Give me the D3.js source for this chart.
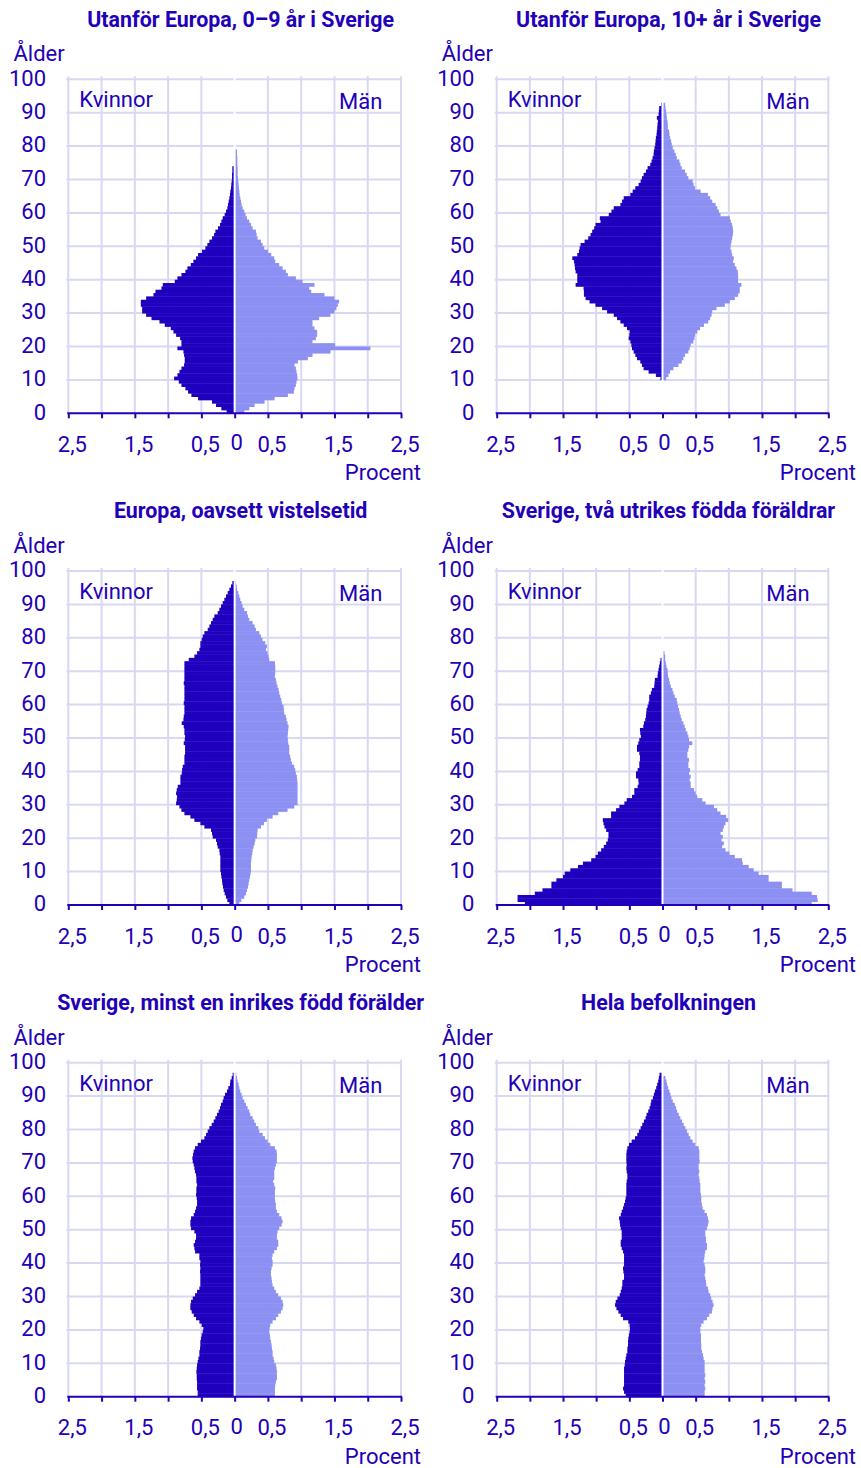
<!DOCTYPE html>
<html><head><meta charset="utf-8">
<script src="https://cdn.jsdelivr.net/npm/d3@7"></script>
<style>
html,body{margin:0;padding:0;background:#fff;}
svg text{font-family:Roboto,"Noto Sans",sans-serif;fill:#2200B8;}
</style></head>
<body>
<svg id="c" width="861" height="1468"></svg>
<script>
// ---- data (percent of population by single-year age, starting at age 0) ----
const titles = [
  "Utanför Europa, 0–9 år i Sverige",
  "Utanför Europa, 10+ år i Sverige",
  "Europa, oavsett vistelsetid",
  "Sverige, två utrikes födda föräldrar",
  "Sverige, minst en inrikes född förälder",
  "Hela befolkningen"
];
const xTickValues = [-2.5,-2,-1.5,-1,-0.5,0,0.5,1,1.5,2,2.5];
const xTickLabels = ["2,5","","1,5","","0,5","0","0,5","","1,5","","2,5"];
const yTickValues = [0,10,20,30,40,50,60,70,80,90,100];
const labelWomen = "Kvinnor", labelMen = "Män", labelAge = "Ålder", labelPct = "Procent";

// Panel 1: Utanför Europa, 0–9 år i Sverige
const p1Women = [0.12,0.2,0.28,0.34,0.55,0.65,0.7,0.74,0.8,0.84,
 0.91,0.86,0.83,0.8,0.76,0.75,0.75,0.76,0.77,0.86,
 0.8,0.8,0.82,0.88,0.92,0.96,1.05,1.13,1.25,1.33,
 1.39,1.39,1.41,1.41,1.33,1.22,1.19,1.1,1.08,0.9,
 0.86,0.8,0.74,0.71,0.66,0.62,0.58,0.55,0.49,0.44,
 0.41,0.38,0.34,0.31,0.29,0.25,0.22,0.2,0.18,0.15,
 0.13,0.11,0.1,0.09,0.08,0.07,0.065,0.055,0.05,0.045,
 0.04,0.04,0.035,0.035];
const p1Men = [0.145,0.22,0.3,0.45,0.6,0.8,0.89,0.9,0.92,0.93,
 0.945,0.94,0.93,0.92,0.9,0.95,1.1,1.17,1.44,2.04,
 1.51,1.17,1.22,1.24,1.24,1.2,1.17,1.17,1.27,1.44,
 1.5,1.53,1.55,1.57,1.5,1.35,1.15,1.12,1.2,1.02,
 0.92,0.8,0.77,0.72,0.67,0.61,0.595,0.55,0.5,0.445,
 0.42,0.395,0.345,0.33,0.32,0.27,0.245,0.22,0.185,0.165,
 0.145,0.12,0.105,0.095,0.085,0.075,0.07,0.065,0.06,0.055,
 0.05,0.045,0.045,0.045,0.04,0.04,0.04,0.035,0.035];

// Panel 2: Utanför Europa, 10+ år i Sverige
const p2Women = [0,0,0,0,0,0,0,0,0,0,
 0.03,0.1,0.21,0.285,0.31,0.335,0.385,0.41,0.435,0.46,
 0.47,0.485,0.51,0.5,0.495,0.535,0.585,0.635,0.685,0.735,
 0.835,0.91,1.01,1.1,1.16,1.185,1.185,1.19,1.31,1.285,
 1.285,1.285,1.31,1.32,1.325,1.335,1.36,1.285,1.26,1.25,
 1.235,1.175,1.12,1.085,1.06,1.03,1.01,0.935,0.945,0.81,
 0.77,0.735,0.635,0.61,0.585,0.485,0.45,0.41,0.36,0.33,
 0.31,0.285,0.25,0.225,0.185,0.165,0.15,0.135,0.13,0.12,
 0.11,0.105,0.1,0.09,0.085,0.08,0.075,0.07,0.085,0.06,
 0.055,0.05,0.02];
const p2Men = [0,0,0,0,0,0,0,0,0,0,
 0.055,0.09,0.115,0.165,0.24,0.29,0.315,0.34,0.39,0.41,
 0.425,0.465,0.48,0.49,0.525,0.565,0.625,0.69,0.72,0.74,
 0.75,0.815,0.94,1.015,1.09,1.14,1.165,1.165,1.19,1.14,
 1.14,1.14,1.135,1.115,1.09,1.065,1.075,1.05,1.04,1.025,
 1.03,1.04,1.05,1.06,1.065,1.06,1.05,1.03,1.015,0.875,
 0.85,0.825,0.8,0.75,0.72,0.685,0.575,0.49,0.47,0.455,
 0.39,0.365,0.34,0.29,0.27,0.255,0.215,0.2,0.18,0.155,
 0.14,0.13,0.115,0.105,0.1,0.08,0.08,0.075,0.065,0.06,
 0.055,0.045,0.04];

// Panel 3: Europa, oavsett vistelsetid
const p3Women = [0.08,0.11,0.13,0.15,0.165,0.175,0.185,0.19,0.2,0.205,
 0.215,0.215,0.215,0.215,0.215,0.225,0.23,0.255,0.265,0.28,
 0.33,0.34,0.355,0.455,0.515,0.605,0.665,0.755,0.8,0.83,
 0.88,0.87,0.865,0.88,0.87,0.855,0.815,0.815,0.815,0.795,
 0.79,0.78,0.755,0.755,0.755,0.745,0.745,0.745,0.765,0.75,
 0.745,0.755,0.755,0.765,0.795,0.77,0.765,0.755,0.755,0.755,
 0.765,0.755,0.755,0.755,0.755,0.755,0.765,0.755,0.755,0.755,
 0.755,0.755,0.755,0.69,0.605,0.565,0.53,0.515,0.515,0.495,
 0.48,0.455,0.405,0.38,0.355,0.33,0.305,0.255,0.23,0.205,
 0.18,0.155,0.13,0.105,0.08,0.055,0.035];
const p3Men = [0.07,0.1,0.145,0.17,0.185,0.2,0.21,0.22,0.23,0.24,
 0.245,0.245,0.245,0.25,0.255,0.265,0.27,0.285,0.3,0.31,
 0.335,0.34,0.345,0.395,0.44,0.485,0.57,0.655,0.795,0.895,
 0.945,0.945,0.945,0.945,0.945,0.945,0.945,0.94,0.935,0.92,
 0.91,0.895,0.86,0.845,0.835,0.82,0.82,0.82,0.805,0.8,
 0.795,0.8,0.805,0.81,0.795,0.78,0.77,0.745,0.74,0.735,
 0.71,0.7,0.685,0.67,0.66,0.645,0.63,0.62,0.605,0.61,
 0.61,0.61,0.605,0.52,0.51,0.495,0.47,0.485,0.46,0.42,
 0.395,0.37,0.32,0.3,0.27,0.22,0.2,0.185,0.145,0.12,
 0.105,0.085,0.07,0.055,0.035,0.03,0.02];

// Panel 4: Sverige, två utrikes födda föräldrar
const p4Women = [2.075,2.185,2.185,1.925,1.81,1.675,1.675,1.6,1.5,1.475,
 1.39,1.275,1.2,1.075,1.01,0.975,0.925,0.885,0.85,0.825,
 0.815,0.815,0.85,0.875,0.89,0.9,0.775,0.775,0.7,0.65,
 0.575,0.54,0.46,0.425,0.425,0.375,0.36,0.365,0.4,0.4,
 0.375,0.35,0.35,0.34,0.34,0.35,0.385,0.385,0.365,0.35,
 0.325,0.335,0.34,0.29,0.28,0.26,0.25,0.245,0.24,0.225,
 0.21,0.2,0.2,0.175,0.16,0.125,0.12,0.115,0.075,0.07,
 0.06,0.05,0.04,0.03];
const p4Men = [2.25,2.34,2.33,2.25,1.96,1.8,1.8,1.6,1.6,1.45,
 1.375,1.3,1.21,1.2,1.09,1.01,0.95,0.9,0.925,0.89,
 0.91,0.875,0.91,0.925,0.95,0.99,0.96,0.875,0.825,0.775,
 0.65,0.6,0.525,0.5,0.475,0.425,0.425,0.41,0.425,0.4,
 0.415,0.39,0.39,0.4,0.375,0.375,0.39,0.4,0.45,0.4,
 0.39,0.375,0.35,0.335,0.315,0.29,0.275,0.26,0.25,0.235,
 0.225,0.215,0.185,0.165,0.15,0.125,0.11,0.1,0.085,0.08,
 0.075,0.06,0.05,0.04,0.04,0.03];

// Panel 5: Sverige, minst en inrikes född förälder
const p5Women = [0.555,0.555,0.565,0.565,0.565,0.57,0.57,0.575,0.57,0.565,
 0.555,0.545,0.53,0.53,0.52,0.515,0.515,0.505,0.495,0.48,
 0.47,0.495,0.53,0.58,0.615,0.645,0.665,0.665,0.655,0.63,
 0.595,0.565,0.53,0.515,0.515,0.515,0.515,0.52,0.515,0.52,
 0.515,0.53,0.53,0.595,0.605,0.615,0.595,0.58,0.58,0.605,
 0.655,0.665,0.665,0.655,0.615,0.595,0.58,0.565,0.565,0.57,
 0.58,0.575,0.575,0.565,0.575,0.575,0.58,0.595,0.605,0.615,
 0.63,0.635,0.625,0.615,0.595,0.555,0.505,0.455,0.43,0.405,
 0.38,0.345,0.315,0.29,0.265,0.24,0.22,0.205,0.18,0.165,
 0.145,0.115,0.095,0.07,0.065,0.045,0.03];
const p5Men = [0.605,0.605,0.605,0.61,0.62,0.635,0.635,0.635,0.63,0.62,
 0.595,0.585,0.57,0.57,0.56,0.555,0.545,0.535,0.53,0.52,
 0.525,0.535,0.57,0.62,0.655,0.695,0.72,0.73,0.72,0.695,
 0.655,0.62,0.595,0.57,0.56,0.555,0.545,0.545,0.555,0.57,
 0.57,0.56,0.57,0.595,0.635,0.655,0.655,0.635,0.635,0.645,
 0.67,0.705,0.72,0.705,0.67,0.635,0.62,0.62,0.61,0.605,
 0.605,0.605,0.61,0.595,0.58,0.595,0.595,0.595,0.605,0.62,
 0.635,0.635,0.635,0.63,0.605,0.535,0.495,0.455,0.42,0.37,
 0.355,0.32,0.295,0.27,0.235,0.22,0.195,0.17,0.145,0.12,
 0.105,0.085,0.07,0.06,0.045,0.035,0.025];

// Panel 6: Hela befolkningen
const p6Women = [0.555,0.58,0.595,0.58,0.58,0.58,0.58,0.58,0.58,0.57,
 0.565,0.555,0.545,0.53,0.53,0.52,0.52,0.515,0.505,0.495,
 0.49,0.495,0.515,0.595,0.63,0.665,0.695,0.715,0.705,0.68,
 0.645,0.63,0.615,0.605,0.605,0.58,0.58,0.59,0.595,0.58,
 0.58,0.58,0.58,0.595,0.615,0.63,0.63,0.615,0.615,0.615,
 0.63,0.64,0.645,0.655,0.63,0.615,0.595,0.58,0.565,0.555,
 0.545,0.545,0.545,0.545,0.54,0.53,0.53,0.54,0.545,0.54,
 0.545,0.545,0.545,0.54,0.53,0.505,0.465,0.415,0.38,0.355,
 0.33,0.305,0.28,0.255,0.24,0.215,0.195,0.18,0.17,0.145,
 0.13,0.115,0.095,0.08,0.065,0.055,0.045];
const p6Men = [0.635,0.635,0.645,0.635,0.645,0.635,0.645,0.635,0.635,0.635,
 0.635,0.62,0.61,0.595,0.585,0.585,0.58,0.58,0.58,0.57,
 0.57,0.585,0.62,0.67,0.705,0.745,0.755,0.77,0.755,0.735,
 0.72,0.695,0.685,0.66,0.655,0.645,0.635,0.645,0.645,0.635,
 0.62,0.63,0.635,0.645,0.67,0.67,0.655,0.655,0.645,0.645,
 0.67,0.685,0.695,0.685,0.67,0.635,0.605,0.595,0.585,0.585,
 0.58,0.57,0.57,0.57,0.56,0.555,0.545,0.555,0.545,0.545,
 0.56,0.555,0.555,0.555,0.545,0.495,0.455,0.42,0.395,0.37,
 0.345,0.32,0.295,0.27,0.245,0.22,0.205,0.185,0.155,0.135,
 0.12,0.105,0.085,0.07,0.06,0.045];

const womenSeries = [p1Women,p2Women,p3Women,p4Women,p5Women,p6Women];
const menSeries = [p1Men,p2Men,p3Men,p4Men,p5Men,p6Men];

// ---- styling / layout ----
const COL_W = "#1E00BE", COL_M = "#8C90F2", GRID = "#D8D8F3", TXT = "#2200B8";
const FS = 22;
const colX = [[68.3,401],[496.7,828.3]];
const rowTop = [79.3, 571, 1062.7];
const plotH = 334;
const svg = d3.select("#c");

for (let i = 0; i < 6; i++) {
  const col = i % 2, row = Math.floor(i / 2);
  const [x0, x1] = colX[col];
  const top = rowTop[row], bot = top + plotH;
  const x = d3.scaleLinear().domain([-2.5, 2.5]).range([x0, x1]);
  const y = d3.scaleLinear().domain([0, 100]).range([bot, top]);
  const g = svg.append("g");

  // gridlines
  g.selectAll("line.vg").data(xTickValues.filter(v => v !== 0)).join("line")
    .attr("x1", d => x(d)).attr("x2", d => x(d)).attr("y1", top - 3).attr("y2", bot)
    .attr("stroke", GRID).attr("stroke-width", 2);
  g.selectAll("line.hg").data(yTickValues.filter(v => v !== 0)).join("line")
    .attr("x1", x0 - 2).attr("x2", x1 + 1).attr("y1", d => y(d)).attr("y2", d => y(d))
    .attr("stroke", GRID).attr("stroke-width", 2);

  // bars
  const w = womenSeries[i].map((v, a) => ({a, v})).filter(d => d.v > 0);
  const m = menSeries[i].map((v, a) => ({a, v})).filter(d => d.v > 0);
  g.selectAll("rect.w").data(w).join("rect")
    .attr("x", d => x(-d.v)).attr("width", d => x(0) - x(-d.v))
    .attr("y", d => y(d.a + 1)).attr("height", d => y(d.a) - y(d.a + 1) + 0.4)
    .attr("fill", COL_W);
  g.selectAll("rect.m").data(m).join("rect")
    .attr("x", x(0)).attr("width", d => x(d.v) - x(0))
    .attr("y", d => y(d.a + 1)).attr("height", d => y(d.a) - y(d.a + 1) + 0.4)
    .attr("fill", COL_M);

  // centre white line
  g.append("line").attr("x1", x(0)).attr("x2", x(0)).attr("y1", top - 3).attr("y2", bot + 1)
    .attr("stroke", "#fff").attr("stroke-width", 2);

  // x axis
  const ax = d3.axisBottom(x).tickValues(xTickValues).tickSize(5).tickFormat("");
  const axg = g.append("g").attr("transform", `translate(0,${bot})`).call(ax);
  axg.select(".domain").attr("stroke", TXT).attr("stroke-width", 2).attr("d", `M${x0 - 1},0H${x1 + 1}`);
  axg.selectAll(".tick line").attr("stroke", TXT).attr("stroke-width", 2);
  g.selectAll("text.xl").data(xTickValues.map((v, k) => ({v, t: xTickLabels[k]})).filter(d => d.t)).join("text")
    .attr("x", d => x(d.v) + (d.v === 0 ? 2 : 4)).attr("y", d => bot + (d.v === 0 ? 37 : 38.5))
    .attr("text-anchor", "middle").attr("font-size", FS).text(d => d.t);

  // y labels
  const yLabX = col === 0 ? 46 : 474.3;
  g.selectAll("text.yl").data(yTickValues).join("text")
    .attr("x", yLabX).attr("y", d => y(d) + 6.3).attr("text-anchor", "end").attr("font-size", FS)
    .text(d => d);

  // texts
  g.append("text").attr("x", col === 0 ? 13.5 : 441.7).attr("y", top - 18).attr("font-size", FS).text(labelAge);
  g.append("text").attr("x", (x0 + x1) / 2 + 6).attr("y", top - 52.6).attr("text-anchor", "middle")
    .attr("font-size", 21.4).attr("font-weight", "bold").text(titles[i]);
  g.append("text").attr("x", x0 + 11).attr("y", top + 28).attr("font-size", FS).text(labelWomen);
  g.append("text").attr("x", x1 - 18.7).attr("y", top + 30).attr("text-anchor", "end").attr("font-size", FS).text(labelMen);
  g.append("text").attr("x", x1 + (col === 0 ? 20 : 27.7)).attr("y", bot + 67).attr("text-anchor", "end")
    .attr("font-size", FS).text(labelPct);
}
</script>
</body></html>
